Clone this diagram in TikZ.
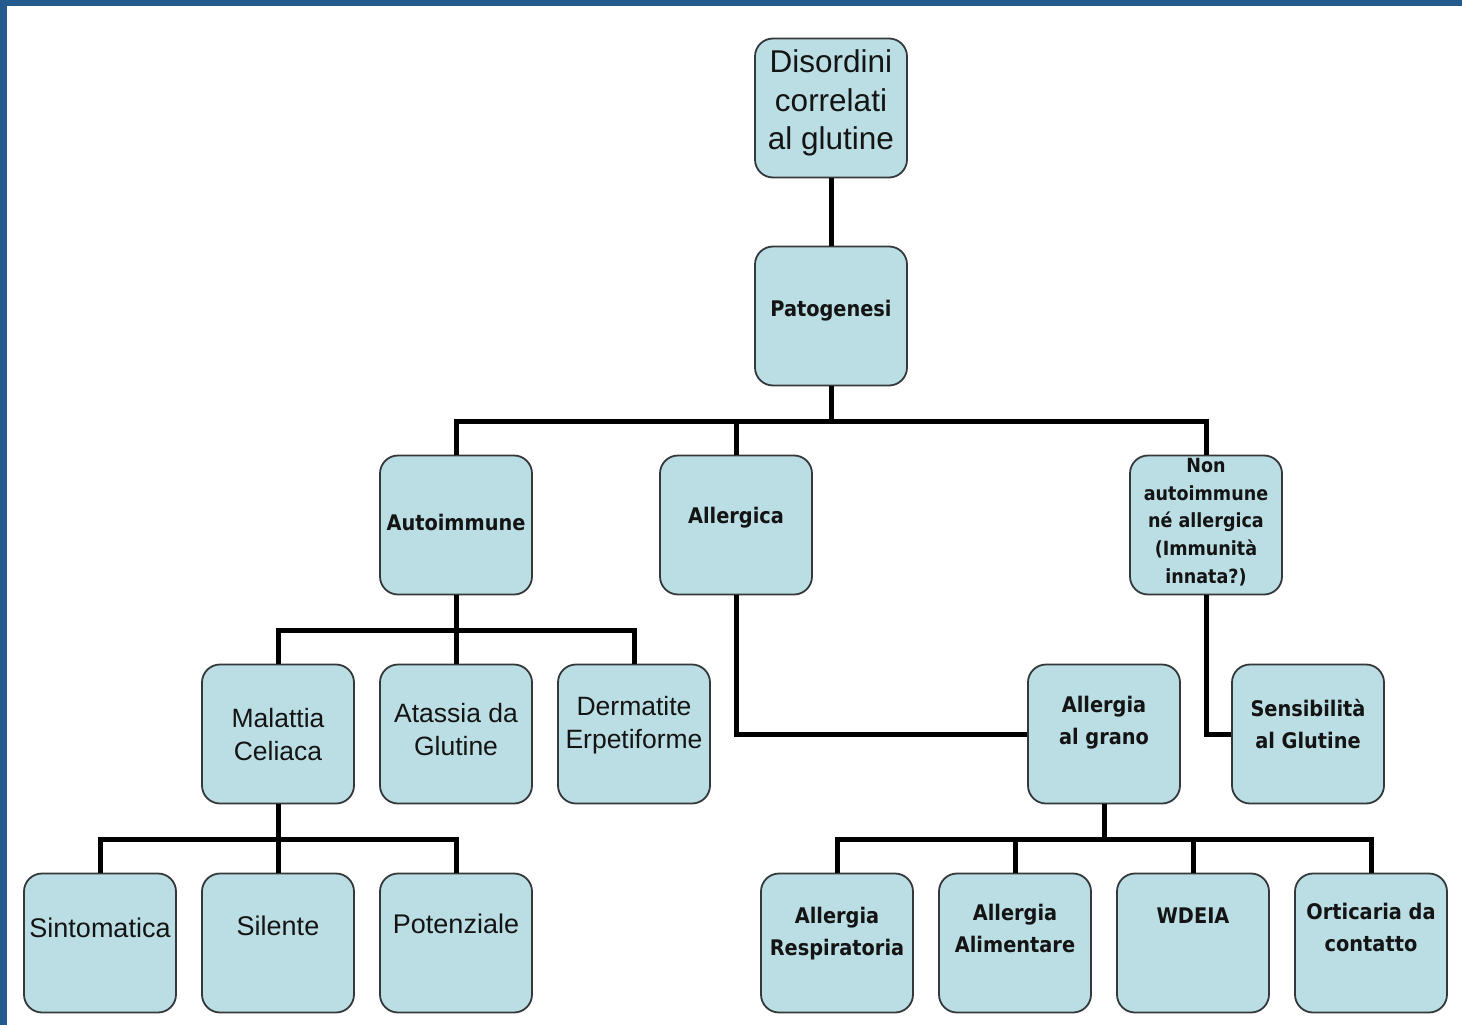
\documentclass[tikz,border=0pt]{standalone}
\usepackage{fontspec}
\setmainfont{Liberation Sans}
\newfontfamily\condfont{DejaVu Sans Condensed}
\definecolor{frameblue}{RGB}{36,91,143}
\definecolor{boxfill}{RGB}{186,222,227}
\definecolor{boxedge}{RGB}{52,56,58}
\definecolor{inkcol}{RGB}{20,20,20}
\tikzset{
  gbox/.style={draw=boxedge, fill=boxfill, line width=1.8pt, rounded corners=18pt,
    minimum width=152pt, minimum height=139pt, inner sep=0pt},
  conn/.style={draw=black, line width=5pt},
  plain/.style={text=inkcol, align=center, inner sep=0pt,
    font=\fontsize{27}{33}\selectfont},
  heavy/.style={text=inkcol, align=center, inner sep=0pt,
    font=\condfont\bfseries\fontsize{21.5}{32}\selectfont}
}
\begin{document}
\begin{tikzpicture}[x=1pt, y=-1pt]
  \useasboundingbox (0,0) rectangle (1462,1025);
  \fill[frameblue] (0,0) rectangle (1462,6);
  \fill[frameblue] (0,0) rectangle (7,1025);
  % boxes
  \node[gbox] (dis) at (831,108) {};
  \node[gbox] (pat) at (831,316) {};
  \node[gbox] (auto) at (456,525) {};
  \node[gbox] (allerg) at (736,525) {};
  \node[gbox] (nonai) at (1206,525) {};
  \node[gbox] (celiac) at (278,734) {};
  \node[gbox] (atass) at (456,734) {};
  \node[gbox] (derm) at (634,734) {};
  \node[gbox] (grano) at (1104,734) {};
  \node[gbox] (sens) at (1308,734) {};
  \node[gbox] (sint) at (100,943) {};
  \node[gbox] (sil) at (278,943) {};
  \node[gbox] (pot) at (456,943) {};
  \node[gbox] (resp) at (837,943) {};
  \node[gbox] (alim) at (1015,943) {};
  \node[gbox] (wdeia) at (1193,943) {};
  \node[gbox] (ortic) at (1371,943) {};
  % labels
  \node[plain, font=\fontsize{31.5}{38.5}\selectfont] (dis-t) at (831,103) {Disordini\\correlati\\al glutine};
  \node[heavy] (pat-t) at (831,311) {Patogenesi};
  \node[heavy] (auto-t) at (456,522) {Autoimmune};
  \node[heavy] (allerg-t) at (736,518) {Allergica};
  \node[heavy, font=\condfont\bfseries\fontsize{19.5}{27.7}\selectfont] (nonai-t) at (1206,522)
    {Non\\autoimmune\\né allergica\\(Immunità\\innata?)};
  \node[plain, font=\fontsize{26.5}{33}\selectfont] (celiac-t) at (278,735) {Malattia\\Celiaca};
  \node[plain, font=\fontsize{26.5}{33}\selectfont] (atass-t) at (456,730) {Atassia da\\Glutine};
  \node[plain, font=\fontsize{26.5}{33}\selectfont] (derm-t) at (634,725) {Dermatite\\Erpetiforme};
  \node[heavy] (grano-t) at (1104,723) {Allergia\\al grano};
  \node[heavy] (sens-t) at (1308,724) {Sensibilità\\al Glutine};
  \node[plain] (sint-t) at (100,928) {Sintomatica};
  \node[plain] (sil-t) at (278,926) {Silente};
  \node[plain] (pot-t) at (456,924) {Potenziale};
  \node[heavy] (resp-t) at (837,934) {Allergia\\Respiratoria};
  \node[heavy] (alim-t) at (1015,928) {Allergia\\Alimentare};
  \node[heavy] (wdeia-t) at (1193,916) {WDEIA};
  \node[heavy] (ortic-t) at (1371,927) {Orticaria da\\contatto};
  % connectors
  \coordinate (bus0) at (831,421);
  \coordinate (bus1) at (456,630);
  \coordinate (bus2) at (278,839);
  \coordinate (bus3) at (1104,839);
  \draw[conn] (dis) -- (pat);
  \draw[conn] (pat) -- (bus0);
  \draw[conn] (bus0) -| (auto);
  \draw[conn] (bus0) -| (allerg);
  \draw[conn] (bus0) -| (nonai);
  \draw[conn] (auto) -- (bus1);
  \draw[conn] (bus1) -| (celiac);
  \draw[conn] (bus1) -- (atass);
  \draw[conn] (bus1) -| (derm);
  \draw[conn] (allerg) |- (grano);
  \draw[conn] (nonai) |- (sens);
  \draw[conn] (celiac) -- (bus2);
  \draw[conn] (bus2) -| (sint);
  \draw[conn] (bus2) -- (sil);
  \draw[conn] (bus2) -| (pot);
  \draw[conn] (grano) -- (bus3);
  \draw[conn] (bus3) -| (resp);
  \draw[conn] (bus3) -| (alim);
  \draw[conn] (bus3) -| (wdeia);
  \draw[conn] (bus3) -| (ortic);
\end{tikzpicture}
\end{document}
